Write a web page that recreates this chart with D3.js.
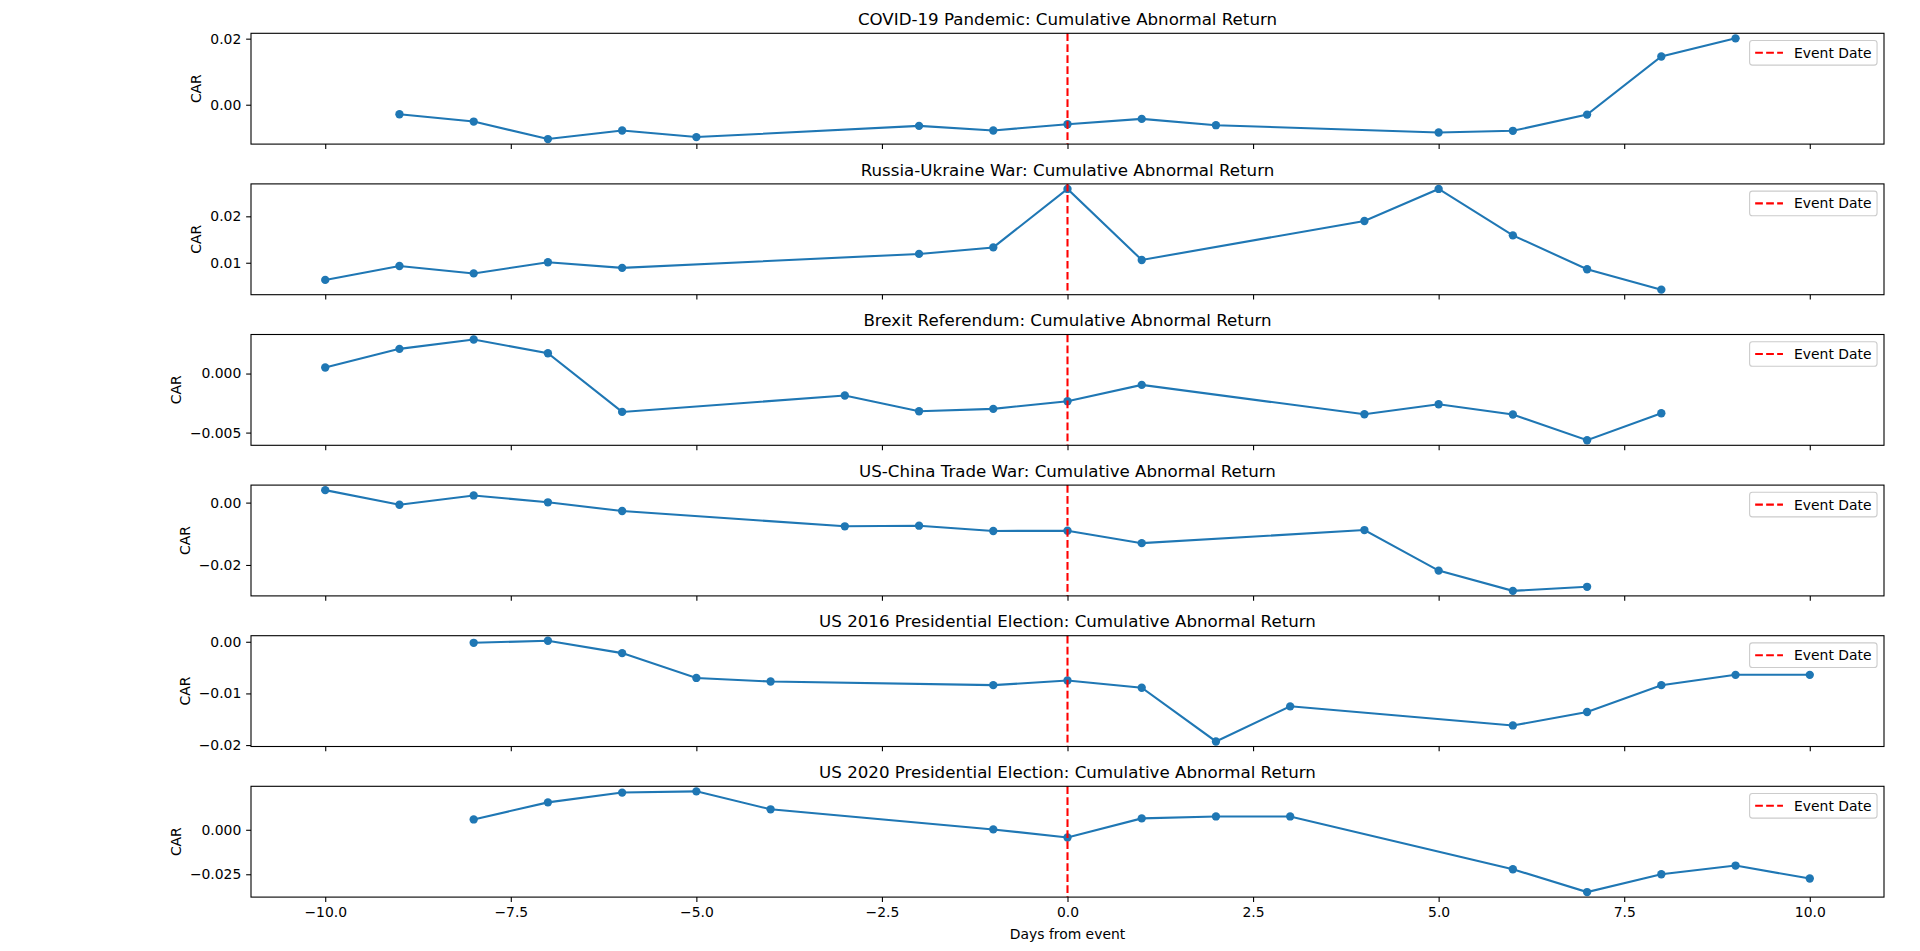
<!DOCTYPE html>
<html>
<head>
<meta charset="utf-8">
<script src="https://cdn.jsdelivr.net/npm/d3@7"></script>
<style>
  body { margin: 0; background: #fff; }
  svg { display: block; }
  text { font-family: "DejaVu Sans", sans-serif; fill: #000; }
</style>
</head>
<body>
<svg id="chart"></svg>
<script>
// Event study: cumulative abnormal return around six events

var titles = [
  "COVID-19 Pandemic: Cumulative Abnormal Return",
  "Russia-Ukraine War: Cumulative Abnormal Return",
  "Brexit Referendum: Cumulative Abnormal Return",
  "US-China Trade War: Cumulative Abnormal Return",
  "US 2016 Presidential Election: Cumulative Abnormal Return",
  "US 2020 Presidential Election: Cumulative Abnormal Return"
];

var covidDays = [-9, -8, -7, -6, -5, -2, -1, 0, 1, 2, 5, 6, 7, 8, 9];
var covidCar  = [-0.0029, -0.0051, -0.0104, -0.0078, -0.0098, -0.0064, -0.0078, -0.0059,
                 -0.0043, -0.0062, -0.0084, -0.0079, -0.0030, 0.0146, 0.0201];

var russiaDays = [-10, -9, -8, -7, -6, -2, -1, 0, 1, 4, 5, 6, 7, 8];
var russiaCar  = [0.0063, 0.0093, 0.0077, 0.0101, 0.0089, 0.0119, 0.0133, 0.0259,
                  0.0106, 0.0190, 0.0259, 0.0159, 0.0086, 0.0042];

var brexitDays = [-10, -9, -8, -7, -6, -3, -2, -1, 0, 1, 4, 5, 6, 7, 8];
var brexitCar  = [0.00051, 0.00209, 0.00288, 0.00172, -0.00325, -0.00186, -0.00319, -0.00299,
                  -0.00234, -0.00096, -0.00345, -0.00260, -0.00347, -0.00565, -0.00336];

var chinaDays = [-10, -9, -8, -7, -6, -3, -2, -1, 0, 1, 4, 5, 6, 7];
var chinaCar  = [0.0040, -0.0007, 0.0023, 0.0001, -0.0027, -0.0076, -0.0074, -0.0091,
                 -0.0090, -0.0130, -0.0088, -0.0218, -0.0283, -0.0270];

var us2016Days = [-8, -7, -6, -5, -4, -1, 0, 1, 2, 3, 6, 7, 8, 9, 10];
var us2016Car  = [-0.0002, 0.0002, -0.0022, -0.0070, -0.0077, -0.0084, -0.0075, -0.0089,
                  -0.0193, -0.0125, -0.0162, -0.0136, -0.0084, -0.0064, -0.0064];

var us2020Days = [-8, -7, -6, -5, -4, -1, 0, 1, 2, 3, 6, 7, 8, 9, 10];
var us2020Car  = [0.0058, 0.0154, 0.0209, 0.0216, 0.0115, 0.0002, -0.0043, 0.0064,
                  0.0075, 0.0075, -0.0222, -0.0350, -0.0250, -0.0201, -0.0274];

var yTicks = [
  [0.00, 0.02],
  [0.01, 0.02],
  [-0.005, 0.000],
  [-0.02, 0.00],
  [-0.02, -0.01, 0.00],
  [-0.025, 0.000]
];
var yTickLabels = [
  ["0.00", "0.02"],
  ["0.01", "0.02"],
  ["\u22120.005", "0.000"],
  ["\u22120.02", "0.00"],
  ["\u22120.02", "\u22120.01", "0.00"],
  ["\u22120.025", "0.000"]
];
var xTicks = [-10, -7.5, -5, -2.5, 0, 2.5, 5, 7.5, 10];
var xTickLabels = ["\u221210.0", "\u22127.5", "\u22125.0", "\u22122.5", "0.0", "2.5", "5.0", "7.5", "10.0"];

var allDays = [covidDays, russiaDays, brexitDays, chinaDays, us2016Days, us2020Days];
var allCar = [covidCar, russiaCar, brexitCar, chinaCar, us2016Car, us2020Car];

var W = 1920;
var H = 951;
var axLeft = 251;
var axRight = 1884;
var axTop = 33.3;
var axStep = 150.6;
var axH = 110.8;
var fs = 13.9;        // 10pt at 100 dpi
var tickLen = 4.86;
var blue = "#1f77b4";

var svg = d3.select('#chart').attr('width', W).attr('height', H);

// shared x scale, matplotlib-style 5% margins
var xMin = d3.min(allDays, function(d) { return d3.min(d); });
var xMax = d3.max(allDays, function(d) { return d3.max(d); });
var xPad = (xMax - xMin) * 0.05;
var x = d3.scaleLinear().domain([xMin - xPad, xMax + xPad]).range([axLeft, axRight]);

titles.forEach(function(title, i) {
  var py = axTop + i * axStep;
  var yMin = d3.min(allCar[i]), yMax = d3.max(allCar[i]);
  var yPad = (yMax - yMin) * 0.05;
  var y = d3.scaleLinear().domain([yMin - yPad, yMax + yPad]).range([py + axH, py]);
  var g = svg.append('g');

  // title
  g.append('text')
      .attr('x', (axLeft + axRight) / 2)
      .attr('y', py - 8.3)
      .attr('text-anchor', 'middle')
      .style('font-size', '16.67px')
      .text(title);

  // y axis
  var labels = yTickLabels[i];
  var ya = g.append('g')
      .attr('transform', 'translate(' + axLeft + ',0)')
      .call(d3.axisLeft(y).tickValues(yTicks[i])
            .tickFormat(function(d, k) { return labels[k]; })
            .tickSize(tickLen).tickPadding(4.86));
  ya.select('.domain').remove();
  ya.selectAll('line').attr('stroke', '#000').attr('stroke-width', 1.1);
  ya.selectAll('text').style('font-size', fs + 'px').attr('font-family', null);

  var maxW = 0;
  ya.selectAll('text').each(function() {
    maxW = Math.max(maxW, this.getComputedTextLength());
  });
  var labX = axLeft - tickLen - 4.86 - maxW - 5.56 - 3.3;
  g.append('text')
      .attr('transform', 'translate(' + labX + ',' + (py + axH / 2) + ') rotate(-90)')
      .attr('text-anchor', 'middle')
      .style('font-size', fs + 'px')
      .text('CAR');

  // x axis (labels only on the last panel)
  var last = (i == titles.length - 1);
  var xa = g.append('g')
      .attr('transform', 'translate(0,' + (py + axH) + ')')
      .call(d3.axisBottom(x).tickValues(xTicks)
            .tickFormat(function(d, k) { return last ? xTickLabels[k] : ''; })
            .tickSize(tickLen).tickPadding(4.86));
  xa.select('.domain').remove();
  xa.selectAll('line').attr('stroke', '#000').attr('stroke-width', 1.1);
  xa.selectAll('text').style('font-size', fs + 'px').attr('font-family', null);

  // data
  var pts = allDays[i].map(function(d, k) { return [d, allCar[i][k]]; });
  g.append('path')
      .attr('d', d3.line().x(function(d) { return x(d[0]); }).y(function(d) { return y(d[1]); })(pts))
      .attr('fill', 'none')
      .attr('stroke', blue)
      .attr('stroke-width', 2.08);
  g.selectAll('circle').data(pts).enter()
      .append('circle')
      .attr('cx', function(d) { return x(d[0]); })
      .attr('cy', function(d) { return y(d[1]); })
      .attr('r', 4.17)
      .attr('fill', blue);

  // event line
  g.append('line')
      .attr('x1', x(0)).attr('x2', x(0))
      .attr('y1', py).attr('y2', py + axH)
      .attr('stroke', 'red')
      .attr('stroke-width', 2.08)
      .attr('stroke-dasharray', '7.7,3.3');

  // spines
  g.append('rect')
      .attr('x', axLeft).attr('y', py)
      .attr('width', axRight - axLeft).attr('height', axH)
      .attr('fill', 'none')
      .attr('stroke', '#000')
      .attr('stroke-width', 1.1);

  // legend
  var lg = g.append('g');
  var box = lg.append('rect');
  var lt = lg.append('text')
      .style('font-size', fs + 'px')
      .text('Event Date');
  var tw = lt.node().getComputedTextLength();
  var bw = 5.56 + 27.8 + 11.1 + tw + 5.56;
  var bh = 24.6;
  var bx = axRight - 6.95 - bw, by = py + 7.2;
  box.attr('x', bx).attr('y', by).attr('width', bw).attr('height', bh)
      .attr('rx', 2.8)
      .attr('fill', 'white').attr('fill-opacity', 0.8)
      .attr('stroke', '#cccccc').attr('stroke-width', 1.1);
  lg.append('line')
      .attr('x1', bx + 5.56).attr('x2', bx + 5.56 + 27.8)
      .attr('y1', by + bh / 2).attr('y2', by + bh / 2)
      .attr('stroke', 'red').attr('stroke-width', 2.08)
      .attr('stroke-dasharray', '7.7,3.3');
  lt.attr('x', bx + 5.56 + 27.8 + 11.1).attr('y', by + bh / 2 + 5);
});

// x label
svg.append('text')
    .attr('x', (axLeft + axRight) / 2)
    .attr('y', axTop + 5 * axStep + axH + 41.5)
    .attr('text-anchor', 'middle')
    .style('font-size', fs + 'px')
    .text('Days from event');
</script>
</body>
</html>
